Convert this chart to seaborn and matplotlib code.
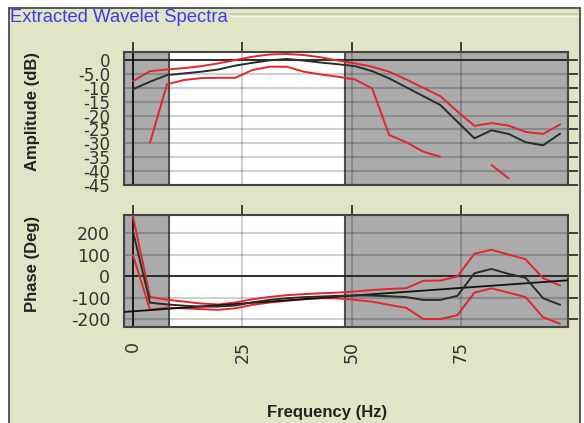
import numpy as np
import pandas as pd
import matplotlib
matplotlib.use("Agg")
import matplotlib.pyplot as plt
from matplotlib.patches import Rectangle
from matplotlib.lines import Line2D
import seaborn as sns

nan = np.nan

# Frequency samples of the spectra (Hz)
freq_hz = [0.0, 3.9, 7.8, 11.7, 15.6, 19.5, 23.4, 27.3, 31.3, 35.2, 39.1, 43.0, 46.9,
           50.8, 54.7, 58.6, 62.5, 66.4, 70.3, 74.2, 78.1, 82.0, 85.9, 89.8, 93.8, 97.7]

# Amplitude spectra (dB): average wavelet and its upper / lower envelopes
amp_mean = [-10.5, -7.8, -5.4, -4.8, -4.2, -3.4, -2.0, -1.0, -0.1, 0.4, -0.2, -0.9, -1.5,
            -2.2, -4.0, -6.6, -9.8, -13.0, -16.2, -22.2, -28.2, -25.3, -26.6, -29.6, -30.7, -26.5]
amp_upper = [-7.6, -4.0, -3.4, -2.9, -2.2, -1.2, 0.0, 1.2, 2.0, 2.2, 1.8, 1.0, -0.2,
             -1.2, -2.4, -4.2, -7.0, -10.0, -13.0, -18.5, -23.7, -22.7, -23.6, -25.9, -26.6, -23.2]
amp_lower = [nan, -29.7, -8.7, -7.2, -6.5, -6.4, -6.4, -3.6, -2.4, -2.4, -4.2, -5.2, -6.0,
             -7.0, -10.2, -27.0, -29.6, -33.0, -34.8, nan, nan, -37.8, -42.6, nan, nan, nan]

# Phase spectra (degrees)
phase_mean = [210, -122, -130, -136, -140, -140, -135, -120, -109, -101, -96, -93, -90,
              -88, -89, -92, -96, -109, -109, -90, 15, 35, 12, -6, -101, -132]
phase_upper = [280, -95, -108, -117, -126, -130, -121, -106, -95, -87, -82, -78, -75,
               -70, -63, -58, -55, -20, -19, 0, 106, 124, 102, 80, -8, -42]
phase_lower = [100, -155, -145, -148, -152, -155, -148, -132, -121, -113, -106, -101, -102,
               -109, -117, -132, -146, -198, -198, -180, -75, -55, -75, -96, -190, -220]

# Linear phase trend (deg at 0 Hz, deg per Hz)
trend_intercept = -162.0
trend_slope = 1.45

# Frequency band used for the extraction (outside is shaded)
band_low_hz = 8.2
band_high_hz = 48.5

amp_ticks = [0, -5, -10, -15, -20, -25, -30, -35, -40, -45]
amp_tick_labels = ["0", "-5.0", "-10", "-15", "-20", "-25", "-30", "-35", "-40", "-45"]
phase_ticks = [-200, -100, 0, 100, 200]
phase_tick_labels = ["-200", "-100", "0", "100", "200"]
freq_ticks = [0, 25, 50, 75]
freq_tick_labels = ["0", "25", "50", "75"]

BEIGE = "#e1e5c6"
SHADE = "#ababab"
RED = "#e3262b"
DARK = "#2b2b2b"
XLIM = (-2.05, 99.5)

sns.set_style("white")
plt.rcParams["font.family"] = ["DejaVu Sans"]


def long_frame(values):
    """Series as a long table; a NaN starts a new line segment."""
    rows = []
    seg = 0
    for f, v in zip(freq_hz, values):
        if np.isnan(v):
            seg += 1
            continue
        rows.append((f, v, seg))
    return pd.DataFrame(rows, columns=["freq", "value", "segment"])


def draw_series(ax, values, color, z):
    df = long_frame(values)
    sns.lineplot(data=df, x="freq", y="value", units="segment", estimator=None,
                 sort=False, color=color, lw=1.4, ax=ax, legend=False, zorder=z)


fig = plt.figure(figsize=(5.84, 4.23), dpi=100)
fig.patch.set_facecolor("white")

W, H = 584.0, 423.0
# group box frame
fig.patches.append(Rectangle((9 / W, -0.02), (580 - 9) / W, (423 - 8) / H + 0.02,
                             transform=fig.transFigure, facecolor=BEIGE,
                             edgecolor="#4a4a4a", lw=1.3, zorder=-10))
fig.lines.append(Line2D([230 / W, 578 / W], [1 - 14.5 / H] * 2, transform=fig.transFigure,
                        color="#c3c7a6", lw=1.2))
fig.lines.append(Line2D([230 / W, 578 / W], [1 - 16.2 / H] * 2, transform=fig.transFigure,
                        color="#f3f5e6", lw=1.0))
fig.text(10 / W, 1 - 17.5 / H, "Extracted Wavelet Spectra", color="#3b3bf0",
         fontsize=13.3, family="Liberation Sans", ha="left", va="center")

ax_amp = fig.add_axes([124 / W, 1 - 185 / H, 444 / W, 133 / H])
ax_ph = fig.add_axes([124 / W, 1 - 327 / H, 444 / W, 112 / H])

for ax in (ax_amp, ax_ph):
    ax.set_facecolor("white")
    ax.set_xlim(*XLIM)
    ax.axvspan(XLIM[0], band_low_hz, facecolor=SHADE, edgecolor="#505050", lw=1.5, zorder=1)
    ax.axvspan(band_high_hz, XLIM[1], facecolor=SHADE, edgecolor="#505050", lw=1.5, zorder=1)
    ax.set_axisbelow("line")
    ax.grid(True, color="black", alpha=0.19, lw=1.5)
    ax.axhline(0, color="#222222", lw=1.3, zorder=1.8)
    ax.axvline(0, color="#111111", lw=1.3, zorder=1.8)
    ax.set_xticks(freq_ticks)
    ax.tick_params(axis="both", direction="out", length=7, width=1.3, color="#333333",
                   top=True, right=True, labelsize=12.5, labelcolor="#333333", pad=3)
    for sp in ax.spines.values():
        sp.set_color("#444444")
        sp.set_linewidth(1.5)
        sp.set_visible(True)

# amplitude panel
draw_series(ax_amp, amp_upper, RED, 3)
draw_series(ax_amp, amp_lower, RED, 3)
draw_series(ax_amp, amp_mean, DARK, 4)
ax_amp.set_ylim(-45, 2.9)
ax_amp.set_yticks(amp_ticks)
ax_amp.set_yticklabels(amp_tick_labels)
ax_amp.tick_params(axis="y", labelsize=12)
ax_amp.tick_params(axis="x", labelbottom=False)
ax_amp.set_xlabel("")
ax_amp.set_ylabel("Amplitude (dB)", fontsize=12, fontweight="bold",
                  family="Liberation Sans", color="#222222")
ax_amp.yaxis.set_label_coords(-0.19, 0.55)

# phase panel
ax_ph.axline((0, trend_intercept), slope=trend_slope, color="#111111", lw=1.3, zorder=3.5)
draw_series(ax_ph, phase_upper, RED, 3)
draw_series(ax_ph, phase_lower, RED, 3)
draw_series(ax_ph, phase_mean, DARK, 4)
ax_ph.set_ylim(-235, 286)
ax_ph.set_yticks(phase_ticks)
ax_ph.set_yticklabels(phase_tick_labels)
ax_ph.set_xticklabels(freq_tick_labels, rotation=90)
ax_ph.set_xlabel("")
ax_ph.set_ylabel("Phase (Deg)", fontsize=12, fontweight="bold",
                 family="Liberation Sans", color="#222222")
ax_ph.yaxis.set_label_coords(-0.19, 0.5625)

fig.text(327 / W, 1 - 412 / H, "Frequency (Hz)", fontsize=12, fontweight="bold",
         family="Liberation Sans", color="#222222", ha="center", va="center")

fig.savefig("out.png", dpi=100)
